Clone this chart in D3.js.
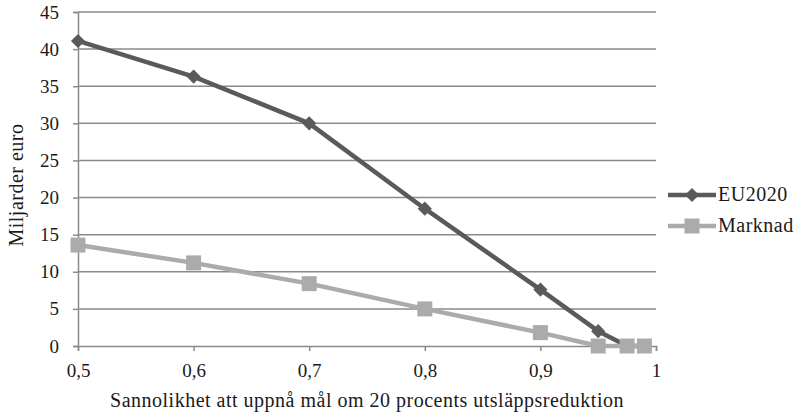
<!DOCTYPE html>
<html>
<head>
<meta charset="utf-8">
<script src="https://cdn.jsdelivr.net/npm/d3@7"></script>
<style>
  html, body { margin: 0; padding: 0; background: #fff; }
  svg { display: block; }
</style>
</head>
<body>
<svg id="chart" width="797" height="414"></svg>
<script>
// Probability of reaching the 20 % emission reduction target
const probabilities = [0.5, 0.6, 0.7, 0.8, 0.9, 0.95, 0.975, 0.99];
// Cost in billions of euro per policy
const eu2020 = [41.1, 36.3, 30.0, 18.5, 7.6, 2.0, 0, 0];
const marknad = [13.6, 11.2, 8.4, 5.0, 1.8, 0, 0, 0];
const seriesNames = ["EU2020", "Marknad"];
const xTicks = [0.5, 0.6, 0.7, 0.8, 0.9, 1];
const yTicks = [0, 5, 10, 15, 20, 25, 30, 35, 40, 45];

const colors = { EU2020: "#5a5a5a", Marknad: "#ababab" };
const FONT = "'Liberation Serif', 'Times New Roman', 'DejaVu Serif', serif";

const svg = d3.select("#chart");
const margin = { left: 78, right: 141, top: 12, bottom: 68 };
const W = 797, H = 414;

const x = d3.scaleLinear().domain([0.5, 1]).range([margin.left, W - margin.right]);
const y = d3.scaleLinear().domain([0, 45]).range([H - margin.bottom, margin.top]);

const fmt = d => d === 1 ? "1" : d3.format(".1f")(d).replace(".", ",");

function setFont(sel, size, spacing) {
  sel.style("font-family", FONT).style("font-size", size + "px").style("fill", "#1a1a1a")
    .style("letter-spacing", (spacing || 0) + "px");
}

// horizontal gridlines
svg.append("g").selectAll("line").data(yTicks.filter(d => d > 0)).join("line")
  .attr("x1", x(0.5)).attr("x2", x(1))
  .attr("y1", d => y(d)).attr("y2", d => y(d))
  .attr("stroke", "#8a8a8a").attr("stroke-width", 1.5);

function styleAxis(g) {
  g.select(".domain").attr("stroke", "#8a8a8a").attr("stroke-width", 1.5);
  g.selectAll(".tick line").attr("stroke", "#8a8a8a").attr("stroke-width", 1.5);
  setFont(g.selectAll("text"), 19);
}

// y axis
svg.append("g").attr("transform", `translate(${x(0.5)},0)`)
  .call(d3.axisLeft(y).tickValues(yTicks).tickSize(5).tickPadding(14).tickFormat(d3.format("d")))
  .call(styleAxis);

// x axis
svg.append("g").attr("transform", `translate(0,${y(0)})`)
  .call(d3.axisBottom(x).tickValues(xTicks).tickSize(5).tickPadding(26).tickFormat(fmt))
  .call(styleAxis)
  .selectAll("text").attr("dy", "0");

// axis titles
svg.append("text")
  .attr("transform", `translate(23,185) rotate(-90)`)
  .attr("text-anchor", "middle")
  .text("Miljarder euro")
  .call(setFont, 20, 0.5);
svg.append("text")
  .attr("x", (x(0.5) + x(1)) / 2).attr("y", 407)
  .attr("text-anchor", "middle")
  .text("Sannolikhet att uppnå mål om 20 procents utsläppsreduktion")
  .call(setFont, 20, 0.5);

const line = d3.line().x(d => x(d[0])).y(d => y(d[1]));

// diamond = square turned 45 degrees
const diamond = d3.symbol().type(d3.symbolSquare).size(100);
const square = d3.symbol().type(d3.symbolSquare).size(225);

function drawSeries(name, values, sym, rot) {
  const pts = probabilities.map((p, i) => [p, values[i]]);
  const g = svg.append("g");
  g.append("path").datum(pts).attr("d", line)
    .attr("fill", "none").attr("stroke", colors[name]).attr("stroke-width", 4.5)
    .attr("stroke-linejoin", "round");
  g.selectAll("path.m").data(pts).join("path").attr("class", "m")
    .attr("d", sym).attr("transform", d => `translate(${x(d[0])},${y(d[1])}) rotate(${rot})`)
    .attr("fill", colors[name]);
}
drawSeries("EU2020", eu2020, diamond, 45);
drawSeries("Marknad", marknad, square, 0);

// legend
const legend = svg.append("g");
seriesNames.forEach((name, i) => {
  const ly = 195 + i * 31;
  legend.append("line").attr("x1", 668).attr("x2", 716).attr("y1", ly).attr("y2", ly)
    .attr("stroke", colors[name]).attr("stroke-width", 4.5);
  legend.append("path").attr("d", i === 0 ? diamond : square)
    .attr("transform", `translate(692,${ly}) rotate(${i === 0 ? 45 : 0})`).attr("fill", colors[name]);
  legend.append("text").attr("x", 718).attr("y", ly + 6)
    .text(name).call(setFont, 20, 0.5);
});
</script>
</body>
</html>
